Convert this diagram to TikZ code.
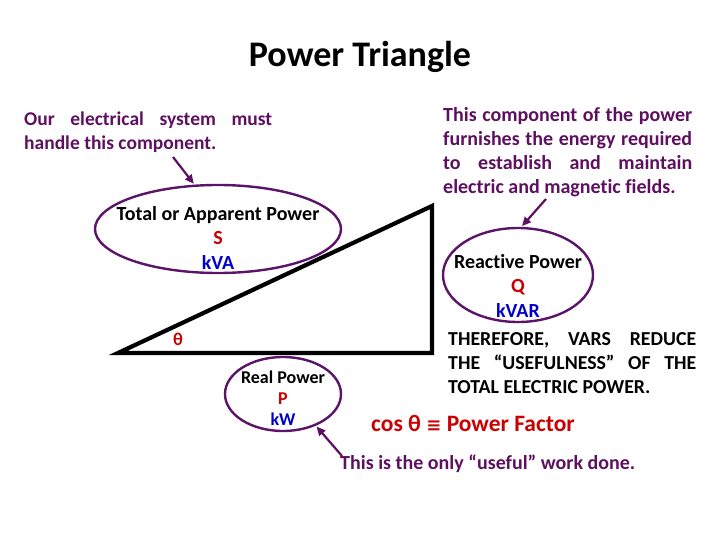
\documentclass[tikz,border=0pt]{standalone}
\usepackage{fontspec}
\setmainfont{Carlito}[Ligatures=NoCommon]
\newfontfamily\dejavu{DejaVu Sans}
\usetikzlibrary{shapes.geometric,arrows.meta}
\definecolor{notepurple}{HTML}{5E1060}
\definecolor{ellpurple}{HTML}{5A1468}
\definecolor{valred}{HTML}{CC0000}
\definecolor{unitblue}{HTML}{0000CC}
\newcommand\nohyph{\hyphenpenalty=10000\relax\exhyphenpenalty=10000\relax}
\begin{document}
\begin{tikzpicture}[x=1pt,y=-1pt,
  note/.style={font=\bfseries\fontsize{19.5}{24}\selectfont\nohyph, text=notepurple, align=justify, inner sep=0pt},
  ell/.style={draw=ellpurple, line width=2.4pt, ellipse, inner sep=0pt},
  lbl/.style={font=\bfseries\fontsize{20}{24.5}\selectfont, align=center, inner sep=0pt},
  arr/.style={draw=notepurple, line width=2.2pt, -{Triangle[length=9pt,width=8pt]}, shorten >=1pt}
]
\useasboundingbox (0,0) rectangle (720,540);
% title
\node[font=\bfseries\fontsize{36}{40}\selectfont, anchor=base] (title) at (360,67) {Power Triangle};
% triangle
\coordinate (A) at (118,353);
\coordinate (B) at (432,353);
\coordinate (C) at (432,206);
\draw[line width=4.2pt, line join=miter] (A) -- (B) -- (C) -- cycle;
\node[text=valred, font=\bfseries\fontsize{18}{20}\selectfont, inner sep=0pt] (theta) at (178,339) {θ};
% left note
\node[note, text width=248pt, anchor=north west] (lnote) at (24,112) {Our electrical system must\linebreak handle this component.};
\node[ell, minimum width=246pt, minimum height=88pt] (Sell) at (218,229) {};
\node[lbl, anchor=north] (Slbl) at (218,206) {Total or Apparent Power\\ \textcolor{valred}{S}\\ \textcolor{unitblue}{kVA}};
\coordinate (a1) at (173,157);
\draw[arr] (a1) -- (Sell.118);
% right note
\node[note, font=\bfseries\fontsize{20}{24}\selectfont\nohyph, text width=249pt, anchor=north west] (rnote) at (443,107) {This component of the power\linebreak furnishes the energy required\linebreak to establish and maintain\linebreak electric and magnetic fields.};
\node[ell, minimum width=150pt, minimum height=94pt] (Qell) at (518,275) {};
\node[lbl, anchor=north] (Qlbl) at (518,254) {Reactive Power\\ \textcolor{valred}{Q}\\ \textcolor{unitblue}{kVAR}};
\coordinate (a2) at (546,199);
\draw[arr] (a2) -- (Qell.86);
% real power
\node[ell, minimum width=116pt, minimum height=74pt] (Pell) at (283,394) {};
\node[lbl, font=\bfseries\fontsize{18}{21}\selectfont, anchor=north] (Plbl) at (283,371) {Real Power\\ \textcolor{valred}{P}\\ \textcolor{unitblue}{kW}};
\coordinate (a3) at (342,456);
\draw[arr] (a3) -- (Pell.-44);
% therefore
\node[note, font=\bfseries\fontsize{19.8}{24}\selectfont\nohyph, text=black, text width=248pt, anchor=north west] (tnote) at (448,332) {THEREFORE, VARS REDUCE\linebreak THE “USEFULNESS” OF THE\linebreak TOTAL ELECTRIC POWER.};
\node[font=\bfseries\fontsize{23.5}{26}\selectfont, text=valred, anchor=base west, inner sep=0pt] (pf) at (371,431) {cos θ {\dejavu\bfseries\fontsize{18}{20}\selectfont ≡} Power Factor};
\node[font=\bfseries\fontsize{20}{24}\selectfont, text=notepurple, anchor=base west, inner sep=0pt] (useful) at (340,469) {This is the only “useful” work done.};
\end{tikzpicture}
\end{document}
